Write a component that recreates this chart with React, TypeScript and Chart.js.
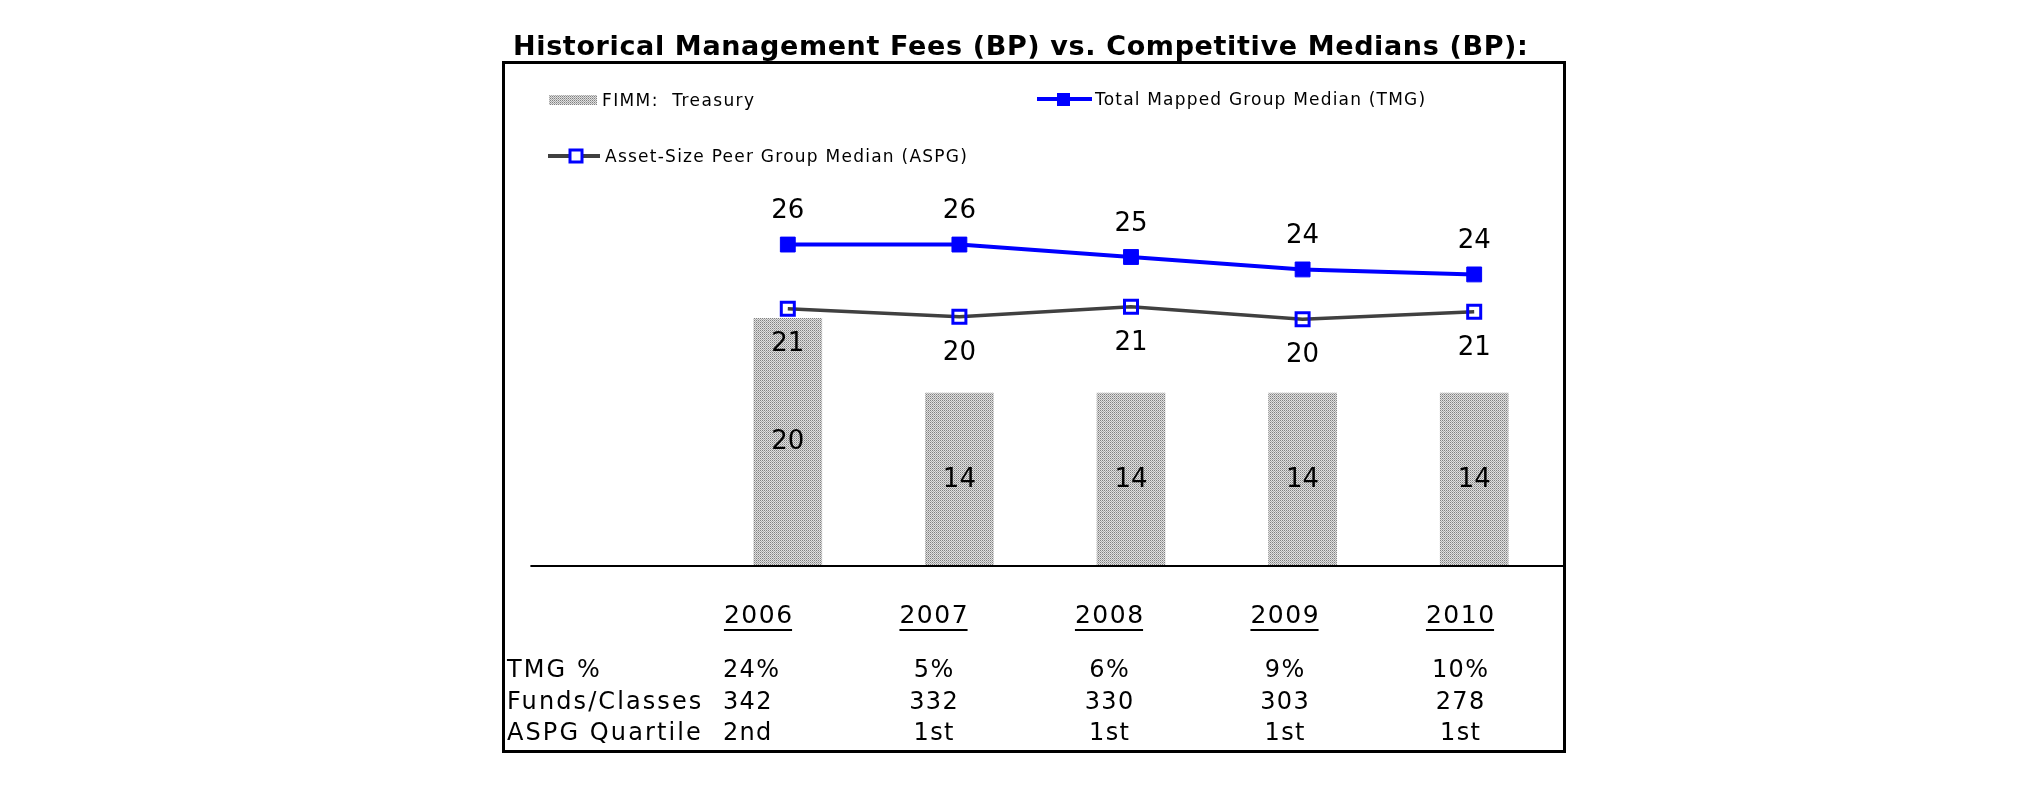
import React, { useEffect, useRef } from 'react';
import { Chart, registerables } from 'chart.js';

Chart.register(...registerables);

// ---------- data ----------
const years = ['2006', '2007', '2008', '2009', '2010'];
const fimmFees = [20, 14, 14, 14, 14];
const tmgMedian = [25.9, 25.9, 24.9, 23.9, 23.5];
const aspgMedian = [20.75, 20.1, 20.9, 19.9, 20.5];
const rowLabels = ['TMG %', 'Funds/Classes', 'ASPG Quartile'];
const tmgPct = ['24%', '5%', '6%', '9%', '10%'];
const fundsClasses = ['342', '332', '330', '303', '278'];
const aspgQuartile = ['2nd', '1st', '1st', '1st', '1st'];

const titleText = 'Historical Management Fees (BP) vs. Competitive Medians (BP):';
const legendFimm = 'FIMM:  Treasury';
const legendTmg = 'Total Mapped Group Median (TMG)';
const legendAspg = 'Asset-Size Peer Group Median (ASPG)';

// ---------- style ----------
const W = 2025;
const H = 806;
const FONT = '"DejaVu Sans", Verdana, sans-serif';
const BLUE = '#0000ff';
const GRAY_LINE = '#404040';

function makePattern(): CanvasPattern | string {
  const c = document.createElement('canvas');
  c.width = 2;
  c.height = 2;
  const g = c.getContext('2d');
  if (!g) return '#b8b8b8';
  g.fillStyle = '#e0e0e0';
  g.fillRect(0, 0, 2, 2);
  g.fillStyle = '#808080';
  g.fillRect(0, 0, 1, 1);
  g.fillStyle = '#aaaaaa';
  g.fillRect(1, 1, 1, 1);
  const p = g.createPattern(c, 'repeat');
  return p || '#b8b8b8';
}

function fitText(ctx: CanvasRenderingContext2D, text: string, x: number, y: number, font: string, width: number) {
  ctx.font = font;
  (ctx as any).letterSpacing = '0px';
  const w = ctx.measureText(text).width;
  const ls = (width - w) / Math.max(1, text.length - 1);
  (ctx as any).letterSpacing = ls.toFixed(2) + 'px';
  ctx.textAlign = 'left';
  ctx.fillText(text, x, y);
  (ctx as any).letterSpacing = '0px';
}

function spacedText(ctx: CanvasRenderingContext2D, text: string, x: number, y: number, font: string, ls: number, align: 'left' | 'center') {
  ctx.font = font;
  (ctx as any).letterSpacing = ls + 'px';
  const w = ctx.measureText(text).width - ls;
  const left = align === 'center' ? x - w / 2 : x;
  ctx.textAlign = 'left';
  ctx.fillText(text, left, y);
  (ctx as any).letterSpacing = '0px';
  return { left, w };
}

export default function App() {
  const ref = useRef<HTMLCanvasElement | null>(null);

  useEffect(() => {
    const canvas = ref.current;
    if (!canvas) return;
    const pattern = makePattern();

    const decor = {
      id: 'decor',
      afterDatasetsDraw(chart: any) {
        const ctx: CanvasRenderingContext2D = chart.ctx;
        ctx.save();
        ctx.fillStyle = '#000';
        ctx.textBaseline = 'middle';
        ctx.textAlign = 'center';
        ctx.font = '26px ' + FONT;
        chart.getDatasetMeta(0).data.forEach((el: any, i: number) => {
          ctx.fillText(String(Math.round(fimmFees[i])), el.x, (el.y + el.base) / 2);
        });
        chart.getDatasetMeta(1).data.forEach((el: any, i: number) => {
          ctx.fillText(String(Math.round(tmgMedian[i])), el.x, el.y - 33);
        });
        chart.getDatasetMeta(2).data.forEach((el: any, i: number) => {
          ctx.fillText(String(Math.round(aspgMedian[i])), el.x, el.y + 36);
        });
        ctx.restore();
      },
      afterDraw(chart: any) {
        const ctx: CanvasRenderingContext2D = chart.ctx;
        const area = chart.chartArea;
        const xs = chart.scales.x;
        const step = xs.getPixelForValue(1) - xs.getPixelForValue(0);
        ctx.save();
        // frame
        ctx.strokeStyle = '#000';
        ctx.lineWidth = 3;
        ctx.strokeRect(503.5, 62.5, 1061, 689);
        // baseline
        ctx.lineWidth = 2;
        ctx.beginPath();
        ctx.moveTo(area.left - step, area.bottom - 1);
        ctx.lineTo(1564, area.bottom - 1);
        ctx.stroke();
        // title
        ctx.fillStyle = '#000';
        ctx.textBaseline = 'alphabetic';
        fitText(ctx, titleText, 513, 55, 'bold 27px ' + FONT, 1015);
        // legend: FIMM
        ctx.fillStyle = pattern as any;
        ctx.fillRect(549, 95, 48, 10);
        ctx.fillStyle = '#000';
        fitText(ctx, legendFimm, 602, 106, '17px ' + FONT, 152);
        // legend: TMG
        ctx.strokeStyle = BLUE;
        ctx.lineWidth = 4;
        ctx.beginPath();
        ctx.moveTo(1037, 99);
        ctx.lineTo(1092, 99);
        ctx.stroke();
        ctx.fillStyle = BLUE;
        ctx.fillRect(1057, 93, 13, 13);
        ctx.fillStyle = '#000';
        fitText(ctx, legendTmg, 1095, 105, '17px ' + FONT, 330);
        // legend: ASPG
        ctx.strokeStyle = GRAY_LINE;
        ctx.lineWidth = 4;
        ctx.beginPath();
        ctx.moveTo(548, 156);
        ctx.lineTo(600, 156);
        ctx.stroke();
        ctx.strokeStyle = BLUE;
        ctx.lineWidth = 3;
        ctx.fillStyle = '#fff';
        ctx.fillRect(570, 150, 12, 12);
        ctx.strokeRect(570, 150, 12, 12);
        ctx.fillStyle = '#000';
        fitText(ctx, legendAspg, 605, 162, '17px ' + FONT, 362);
        // table
        const colX = (i: number) => 758 + i * 175.5;
        ctx.lineWidth = 2;
        ctx.strokeStyle = '#000';
        years.forEach((y, i) => {
          const r = spacedText(ctx, y, colX(i), 623, '25px ' + FONT, 1.5, 'center');
          ctx.beginPath();
          ctx.moveTo(r.left, 630);
          ctx.lineTo(r.left + r.w, 630);
          ctx.stroke();
        });
        const rowY = [677, 709, 740];
        const rows = [tmgPct, fundsClasses, aspgQuartile];
        rowLabels.forEach((lab, r) => {
          spacedText(ctx, lab, 507, rowY[r], '24px ' + FONT, 2.1, 'left');
          rows[r].forEach((v, i) => {
            if (i === 0) spacedText(ctx, v, 723, rowY[r], '24px ' + FONT, 1.3, 'left');
            else spacedText(ctx, v, colX(i), rowY[r], '24px ' + FONT, 1.3, 'center');
          });
        });
        ctx.restore();
      },
    };

    const chart = new Chart(canvas, {
      type: 'bar',
      data: {
        labels: years,
        datasets: [
          {
            type: 'bar',
            label: legendFimm,
            data: fimmFees,
            backgroundColor: pattern as any,
            borderWidth: 0,
            barPercentage: 0.4,
            categoryPercentage: 1,
            order: 3,
          },
          {
            type: 'line',
            label: legendTmg,
            data: tmgMedian,
            borderColor: BLUE,
            borderWidth: 4,
            pointStyle: 'rect',
            pointRadius: 10.5,
            pointBorderWidth: 1,
            pointBackgroundColor: BLUE,
            pointBorderColor: BLUE,
            tension: 0,
            order: 1,
          },
          {
            type: 'line',
            label: legendAspg,
            data: aspgMedian,
            borderColor: GRAY_LINE,
            borderWidth: 3.5,
            pointStyle: 'rect',
            pointRadius: 9.2,
            pointBorderWidth: 3,
            pointBackgroundColor: 'rgba(0,0,0,0)',
            pointBorderColor: BLUE,
            tension: 0,
            order: 2,
          },
        ],
      },
      options: {
        responsive: false,
        animation: false,
        devicePixelRatio: 1,
        layout: { padding: { left: 702, right: W - 1560, top: 193.5, bottom: H - 567 } },
        scales: {
          x: { display: false, offset: true, grid: { display: false } },
          y: { display: false, min: 0, max: 30 },
        },
        plugins: {
          legend: { display: false },
          title: { display: false },
          tooltip: { enabled: false },
        },
        events: [],
      },
      plugins: [decor],
    });
    return () => chart.destroy();
  }, []);

  return (
    <div style={{ position: 'fixed', left: 0, top: 0, width: W, height: H, background: '#fff' }}>
      <canvas ref={ref} width={W} height={H} style={{ display: 'block', width: W, height: H }} />
    </div>
  );
}
